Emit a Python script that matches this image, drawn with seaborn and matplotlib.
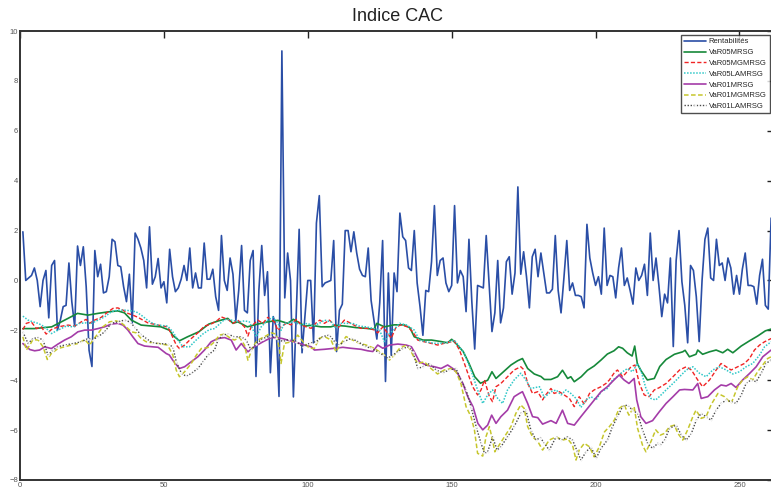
import numpy as np
import pandas as pd
import matplotlib
matplotlib.use("Agg")
import matplotlib.pyplot as plt
import seaborn as sns

# ── Data ─────────────────────────────────────────────────────────────────────
rentabilites = [
    1.95, 0.0, 0.1, 0.2, 0.5, 0.0, -1.05, 0.0, 0.4, -1.5,
    0.6, 0.8, -2.0, -1.6, -1.05, -1.0, 0.7, -0.85, -1.85, 1.38,
    0.6, 1.35, -0.25, -2.8, -3.45, 1.2, 0.15, 0.65, -0.5, -0.45,
    0.15, 1.65, 1.55, 0.6, 0.55, -0.25, -0.85, 0.25, -1.7, 1.9,
    1.65, 1.3, 0.8, -0.3, 2.15, -0.15, 0.15, 0.88, -0.3, -0.05,
    -0.9, 1.25, 0.15, -0.45, -0.3, 0.05, 0.6, 0.0, 1.3, -0.3,
    0.3, -0.3, -0.3, 1.5, 0.05, 0.05, 0.45, -0.65, -1.2, 1.8,
    0.0, -0.4, 0.9, 0.25, -1.6, -0.4, 1.4, -1.2, -1.3, 0.8,
    1.2, -3.85, -0.4, 1.4, -0.6, 0.35, -3.7, -1.45, -1.85, -4.65,
    9.2, -0.7, 1.1, 0.0, -4.67, -1.3, 2.05, -2.9, -1.45, 0.0,
    0.0, -2.5, 2.3, 3.4, -0.25, -0.1, -0.05, 0.0, 1.6, -2.85,
    -1.2, -0.95, 2.0, 2.0, 1.15, 1.95, 1.1, 0.45, 0.2, 0.15,
    1.3, -0.8, -1.6, -2.35, -0.9, 1.6, -4.05, 0.3, -3.0, 0.3,
    -0.45, 2.7, 1.75, 1.6, 0.5, 0.4, 2.0, -0.1, -1.05, -2.2,
    -0.4, -0.45, 0.75, 3.0, 0.2, 0.8, 0.9, -0.1, -0.45, -0.2,
    3.0, -0.1, 0.4, 0.15, -1.25, 1.65, -0.85, -2.75, -0.2, -0.25,
    -0.3, 1.8, -0.1, -2.05, -1.3, 0.8, -1.7, -1.1, 0.75, 0.95,
    -0.55, 0.3, 3.75, 0.25, 1.15, 0.15, -1.1, 0.95, 1.25, 0.15,
    1.1, 0.3, -0.5, -0.5, -0.35, 1.8, -0.4, -1.3, 0.1, 1.6,
    -0.4, -0.1, -0.6, -0.6, -0.65, -1.1, 2.25, 0.9, 0.3, -0.2,
    0.15, -0.55, 2.1, -0.2, 0.2, 0.15, -0.7, 0.5, 1.3, -0.2,
    0.1, -0.4, -0.95, 0.5, 0.0, 0.2, 0.65, -0.6, 1.9, 0.0,
    0.9, -0.2, -1.45, -0.55, -0.9, 0.9, -2.65, 0.8, 2.0, -0.05,
    -1.0, -2.5, 0.6, 0.4, -0.65, -2.45, 0.0, 1.65, 2.1, 0.1,
    0.0, 1.65, 0.6, 0.7, 0.0, 0.9, 0.5, -0.55, 0.2, -0.55,
    0.45, 1.1, -0.2, -0.2, -0.25, -0.95, 0.2, 0.85, -1.0, -1.15,
    2.5,
]

var05_mrsg_x = [1, 5, 11, 16.7, 20, 23.6, 27.1, 30.6, 34, 36.3, 38.7, 42.1, 46, 49,
                52, 53.1, 55.4, 58.2, 62.1, 65.6, 69, 72.2, 74, 75.7, 79, 82.6, 86,
                89.6, 93, 95, 99, 101.2, 104.6, 108, 109.8, 113, 116.7, 120.3, 123,
                124, 126.6, 130, 133.4, 135.5, 137, 140, 143, 146.3, 148.6, 150, 152,
                154, 156, 158, 160, 162.5, 164, 165.4, 168, 170.6, 172.9, 174.6,
                176.4, 178.7, 181, 182.2, 184.5, 186.8, 188.5, 190.3, 191.4, 192.6,
                195, 197.2, 199.5, 201.9, 204.1, 206.4, 208, 209.4, 211, 212.7,
                213.6, 214.5, 215.7, 218, 220.4, 222.3, 224.5, 227.4, 230.3, 231.1,
                232.6, 234.9, 235.5, 237.2, 239.6, 241.9, 244.2, 245.9, 247.7,
                250.6, 253.5, 256.3, 259, 261]
var05_mrsg = [-1.93, -1.93, -1.86, -1.52, -1.32, -1.39, -1.32, -1.26, -1.22, -1.3,
              -1.59, -1.79, -1.83, -1.86, -2.0, -2.2, -2.42, -2.26, -2.06, -1.75,
              -1.62, -1.52, -1.72, -1.66, -1.86, -1.75, -1.66, -1.6, -1.72, -1.56,
              -1.83, -1.8, -1.86, -1.86, -1.8, -1.83, -1.89, -1.92, -1.96, -1.72,
              -1.86, -1.78, -1.78, -1.9, -2.26, -2.39, -2.39, -2.45, -2.5, -2.36,
              -2.59, -2.85, -3.32, -3.86, -4.12, -4.0, -3.66, -3.93, -3.66, -3.39,
              -3.22, -3.13, -3.53, -3.75, -3.85, -3.97, -3.97, -3.86, -3.6, -3.93,
              -3.86, -4.06, -3.86, -3.6, -3.43, -3.19, -2.95, -2.82, -2.66, -2.72,
              -2.9, -3.03, -2.63, -3.33, -3.6, -3.99, -3.93, -3.45, -3.17, -2.96,
              -2.86, -2.8, -3.06, -2.96, -2.79, -2.96, -2.86, -2.79, -2.9, -2.76,
              -2.9, -2.63, -2.42, -2.23, -2.02, -1.95]

var05_mgmrsg_x = [1, 2.2, 3.9, 5.7, 7.4, 9.1, 10.9, 13.2, 16.7, 19, 21.3, 23, 24.2,
                  25.9, 28.2, 30.6, 32.3, 34, 35.8, 37.5, 39.2, 41, 42.7, 44.4, 48,
                  51.3, 52.5, 54.3, 55.4, 57.2, 59.5, 61.8, 64.1, 66.4, 68.7, 69.9,
                  72.2, 74, 75.7, 78, 79.2, 80.3, 82.6, 84.4, 86.1, 88.4, 89.6, 90.7,
                  92.5, 94.2, 96, 97.7, 99.4, 101.2, 103, 104.2, 105.8, 107.5, 108.7,
                  110.4, 112.7, 114.5, 116.2, 118.5, 120.8, 123.1, 124.3, 126.1,
                  127.8, 129, 130.7, 132.4, 134.7, 136.5, 138.2, 140.5, 142.8, 145.1,
                  147.4, 149.8, 150.9, 152.7, 154.4, 155.6, 157.3, 159, 160.2, 161.4,
                  163.1, 164.2, 165.4, 167.1, 169.4, 171.7, 174, 175.2, 176.4, 178.1,
                  179.9, 181.6, 182.2, 184.5, 185.6, 187.4, 189.1, 190.9, 192.6,
                  194.3, 196.1, 197.9, 199.5, 201.9, 203.6, 204.8, 206.5, 207.6,
                  209.4, 210.5, 212.3, 213.7, 215.2, 216.9, 218.6, 220.4, 222.1,
                  224.5, 226.9, 229.2, 231.5, 233.3, 235.5, 237.2, 239.6, 241.9,
                  243.6, 245.4, 247.1, 249.4, 251.7, 253.5, 255.2, 257, 258.7, 261]
var05_mgmrsg = [-1.97, -1.72, -1.66, -1.93, -1.86, -2.15, -1.97, -1.86, -1.79, -1.83,
                -1.66, -1.56, -1.72, -1.59, -1.48, -1.26, -1.12, -1.1, -1.19, -1.32,
                -1.39, -1.48, -1.59, -1.7, -1.79, -1.86, -2.13, -2.59, -2.73, -2.59,
                -2.33, -2.1, -1.83, -1.75, -1.59, -1.46, -1.56, -1.72, -1.59, -1.86,
                -2.23, -1.86, -1.59, -1.72, -1.48, -1.66, -2.0, -1.86, -1.72, -1.78,
                -1.56, -1.78, -1.86, -1.92, -1.69, -1.59, -1.72, -1.59, -1.72, -1.92,
                -1.59, -1.69, -1.8, -1.92, -1.92, -1.98, -2.1, -1.86, -2.12, -2.32,
                -1.86, -1.78, -1.86, -2.06, -2.39, -2.46, -2.52, -2.59, -2.52, -2.46,
                -2.42, -2.79, -3.32, -3.72, -4.26, -4.59, -4.39, -3.99, -4.66, -4.86,
                -4.26, -4.13, -3.86, -3.59, -3.46, -3.59, -4.13, -4.53, -4.46, -4.79,
                -4.66, -4.33, -4.53, -4.46, -4.59, -4.73, -5.06, -4.66, -4.96, -4.53,
                -4.39, -4.26, -4.13, -3.99, -3.7, -3.59, -3.86, -3.72, -3.46, -3.39,
                -4.13, -4.59, -4.66, -4.39, -4.3, -4.13, -3.86, -3.59, -3.46, -3.59,
                -3.99, -4.26, -3.99, -3.59, -3.33, -3.46, -3.59, -3.46, -3.33, -3.13,
                -2.79, -2.59, -2.46, -2.33]

var05_lamrsg_x = [1, 2.8, 4.5, 6.3, 8.6, 10.9, 13.2, 16.1, 18.4, 20.7, 23, 24.8, 27.1,
                  29.4, 31.7, 34, 36.3, 38.7, 40.4, 42.1, 44.4, 46.1, 48, 51.3, 53.1,
                  54.9, 56.6, 58.9, 61.2, 63.5, 65.8, 67.6, 69.3, 71.1, 73.4, 76.3,
                  78, 79.7, 82.1, 83.8, 86.1, 87.8, 89.6, 90.7, 91.9, 94.8, 97.7, 100,
                  101.7, 104, 105.8, 108.1, 109.8, 111.6, 113.9, 115.6, 117.9, 120.3,
                  122.6, 124.9, 126.6, 128.4, 130.1, 131.9, 134.2, 137, 138.8, 141.1,
                  144, 146.9, 149.2, 150.9, 152.7, 154.4, 156.7, 159, 160.8, 162.5,
                  164.2, 166, 167.7, 169.4, 171.7, 174, 175.8, 177.5, 179.3, 180.5,
                  182.2, 184.5, 186.3, 188, 189.7, 191.4, 193.2, 194.9, 196.7, 198.4,
                  200.2, 201.9, 204.1, 205.9, 207.6, 209.4, 211.1, 212.8, 214.6,
                  215.7, 217.5, 219.2, 220.9, 222.5, 224.5, 226.9, 229.2, 231.5,
                  233.8, 236.1, 238.4, 240.7, 243, 245.4, 247.7, 250, 252.3, 254.6,
                  257, 258.7, 261]
var05_lamrsg = [-1.43, -1.59, -1.66, -1.72, -1.86, -2.13, -1.99, -1.83, -1.86, -1.72,
                -1.7, -1.72, -1.59, -1.46, -1.26, -1.19, -1.19, -1.22, -1.26, -1.39,
                -1.6, -1.72, -1.79, -1.83, -2.06, -2.39, -2.66, -2.66, -2.39, -2.15,
                -1.97, -1.93, -1.75, -1.56, -1.59, -1.66, -1.62, -1.66, -2.26, -1.86,
                -1.59, -1.48, -1.7, -2.0, -1.72, -1.66, -1.78, -1.72, -1.83, -1.72,
                -1.59, -1.66, -1.92, -1.72, -1.72, -1.72, -1.83, -1.86, -1.92, -1.98,
                -2.45, -2.12, -1.96, -1.72, -1.78, -1.99, -2.39, -2.46, -2.52, -2.52,
                -2.46, -2.39, -2.66, -2.93, -3.59, -4.39, -4.93, -4.59, -4.39, -4.73,
                -4.93, -4.39, -3.99, -3.72, -3.99, -4.33, -4.29, -4.26, -4.69, -4.46,
                -4.39, -4.59, -4.39, -4.53, -4.73, -5.09, -4.79, -4.66, -4.79, -4.46,
                -4.33, -3.99, -3.86, -3.66, -3.53, -3.66, -3.33, -3.59, -4.33, -4.73,
                -4.79, -4.62, -4.39, -4.13, -3.86, -3.59, -3.46, -3.72, -3.86, -3.59,
                -3.46, -3.59, -3.75, -3.66, -3.46, -3.33, -2.99, -2.66, -2.46]

var01_mrsg_x = [1, 3.4, 5.1, 6.8, 8.6, 10.9, 13.2, 15.5, 17.8, 20.1, 22.5, 24.8, 27.1,
                29.4, 31.7, 34, 35.8, 37.5, 39.2, 41, 43.3, 46, 48, 50.8, 51.9, 53.1,
                55.4, 57.2, 59.5, 61.8, 64.1, 66.4, 68.7, 71.1, 73.4, 75.1, 76.9,
                79.2, 81.4, 84.4, 87.3, 89.6, 91.2, 93, 96.5, 98.8, 101.2, 102.3,
                105.8, 109.3, 112.2, 115, 118.5, 120.8, 122.6, 124.3, 126.1, 128.4,
                131.3, 134.2, 136, 137, 138.8, 141.1, 144, 146.3, 148.6, 150.4,
                152.1, 153.9, 155.6, 157.4, 159.1, 160.8, 162.5, 163.9, 165.4,
                167.1, 169.4, 171.7, 173.5, 174.6, 176.4, 178.1, 179.9, 181.6,
                182.2, 184.5, 186.3, 188.5, 190.3, 192.6, 194.9, 197.2, 199.5,
                201.9, 204.1, 206.4, 208.2, 209.9, 211.6, 213.4, 214.3, 215.7,
                217.5, 219.8, 222.1, 224.5, 226.9, 229.2, 230.9, 233.8, 235.5,
                236.7, 239, 241.3, 243.6, 245.4, 247.1, 248.8, 251.1, 253.5, 255.8,
                258.1, 261]
var01_mrsg = [-2.53, -2.77, -2.82, -2.79, -2.66, -2.73, -2.55, -2.39, -2.26, -2.06,
              -1.99, -1.99, -1.93, -1.86, -1.75, -1.72, -1.79, -1.99, -2.26, -2.53,
              -2.63, -2.66, -2.68, -2.93, -2.99, -3.2, -3.53, -3.46, -3.26, -3.06,
              -2.79, -2.46, -2.33, -2.29, -2.39, -2.79, -2.53, -2.86, -2.66, -2.46,
              -2.29, -2.3, -2.33, -2.39, -2.5, -2.59, -2.66, -2.79, -2.76, -2.72,
              -2.68, -2.72, -2.76, -2.82, -2.85, -2.59, -2.72, -2.59, -2.55, -2.59,
              -2.66, -2.86, -3.26, -3.39, -3.46, -3.53, -3.39, -3.53, -3.73, -4.13,
              -4.66, -5.06, -5.73, -5.99, -5.8, -5.4, -5.73, -5.46, -5.2, -4.66,
              -4.53, -4.46, -4.93, -5.46, -5.5, -5.76, -5.73, -5.62, -5.73, -5.2,
              -5.73, -5.8, -5.46, -5.13, -4.8, -4.46, -4.26, -3.99, -3.79, -3.99,
              -4.13, -3.93, -4.79, -5.46, -5.73, -5.62, -5.27, -4.93, -4.66, -4.39,
              -4.37, -4.39, -4.13, -4.73, -4.66, -4.39, -4.19, -4.23, -4.13, -4.29,
              -3.99, -3.73, -3.46, -3.06, -2.79]

var01_mgmrsg_x = [1, 2.2, 3.4, 4.5, 6.3, 8, 9.5, 10.9, 13.2, 15.5, 17.8, 20.1, 22.5,
                  24.2, 25.3, 27.1, 28.8, 31.1, 33.4, 35.2, 36.9, 38.7, 40.4, 42.1,
                  43.9, 46, 48, 51.3, 53.1, 54.3, 55.4, 57.2, 59.5, 61.3, 63, 65.3,
                  67.6, 69.3, 71.1, 72.8, 74.5, 76.3, 78, 79.2, 80.9, 82.6, 84.9,
                  87.3, 89, 90.2, 90.7, 91.9, 94.8, 96.5, 98.3, 100.6, 102.3, 104,
                  105.8, 108.1, 109.8, 111.6, 113.3, 115.6, 117.9, 120.3, 123.1,
                  124.9, 126.6, 128.4, 130.1, 131.9, 134.2, 135.5, 136.5, 138.2,
                  140.5, 142.8, 145.1, 147.4, 149.8, 151.5, 153.2, 155, 156.7, 157.9,
                  159, 160.8, 161.9, 163.1, 164.2, 165, 166.5, 168.3, 170.6, 172.3,
                  174, 175.2, 176.4, 178.1, 179.9, 181.6, 183.9, 186.3, 188.5, 190.3,
                  192, 193.2, 194.3, 196.1, 197.9, 199.5, 201.3, 203.1, 204.8, 206.5,
                  208.2, 209.9, 211.6, 213.4, 214.6, 216.3, 217.5, 219.2, 220.9,
                  222.5, 224, 225.7, 227.4, 228.6, 230.3, 232, 233.8, 234.9, 236.7,
                  238.4, 240.1, 242.5, 244.8, 247.1, 249.4, 251.1, 252.9, 254.6,
                  256.3, 258.1, 259.8, 261]
var01_mgmrsg = [-2.26, -2.79, -2.59, -2.37, -2.39, -2.66, -3.17, -2.93, -2.73, -2.66,
                -2.59, -2.53, -2.37, -2.59, -2.4, -2.13, -1.86, -1.66, -1.62, -1.7,
                -1.86, -2.06, -2.1, -2.33, -2.46, -2.5, -2.53, -2.59, -2.99, -3.6,
                -3.86, -3.66, -3.33, -2.99, -2.73, -2.69, -2.46, -2.19, -2.15, -2.29,
                -2.39, -2.29, -2.59, -3.2, -2.66, -2.39, -2.26, -2.1, -2.15, -2.79,
                -3.33, -2.52, -2.45, -2.19, -2.45, -2.72, -2.72, -2.32, -2.25, -2.39,
                -2.86, -2.52, -2.25, -2.39, -2.52, -2.59, -2.72, -2.86, -2.99, -3.19,
                -2.99, -2.72, -2.59, -2.75, -2.99, -3.33, -3.26, -3.53, -3.75, -3.59,
                -3.53, -3.66, -4.13, -5.06, -5.46, -5.99, -6.93, -7.04, -6.27, -5.86,
                -6.4, -6.87, -6.6, -6.27, -5.86, -5.33, -4.99, -5.13, -5.86, -6.27,
                -6.45, -6.8, -6.4, -6.27, -6.4, -6.35, -6.6, -7.2, -6.8, -6.53, -6.67,
                -7.07, -6.67, -6.07, -5.86, -5.6, -5.13, -4.99, -5.4, -5.06, -5.93,
                -6.6, -6.87, -6.47, -5.99, -6.2, -6.13, -5.86, -5.8, -6.13, -6.4,
                -5.99, -5.46, -5.2, -5.53, -5.46, -4.99, -4.53, -4.66, -4.93, -4.26,
                -3.99, -3.86, -3.99, -3.66, -3.39, -3.13, -3.06]

var01_lamrsg_x = [1, 2.8, 4.5, 6.3, 8, 9.7, 11.5, 13.2, 15.5, 18.4, 21.3, 23.6, 25.3,
                  27.1, 29.4, 31.7, 34, 36.3, 38.1, 39.8, 41.6, 43.9, 46, 48, 51.3,
                  53.1, 54.3, 56.1, 57.8, 59.5, 61.8, 63.6, 65.3, 67.6, 68.8, 70.5,
                  72.2, 74.5, 76.9, 78.6, 80.3, 82.1, 84.4, 86.7, 89, 91.3, 93.6,
                  95.9, 98.3, 100.6, 102.9, 105.2, 107.5, 109.3, 111, 112.7, 115,
                  117.4, 119.7, 122, 124.3, 126.1, 127.8, 129.5, 131.3, 133, 135.3,
                  136.5, 138.2, 140, 142.3, 144.6, 146.9, 149.2, 151.5, 153.2, 155,
                  156.7, 158.5, 160.2, 161.4, 162.5, 164.2, 165.8, 167.1, 169.4,
                  171.7, 174, 175.8, 177.5, 179.3, 180.8, 182.2, 183.9, 186.3, 188,
                  190.3, 192, 193.7, 194.9, 196.7, 198.4, 200.2, 201.9, 204.1, 205.9,
                  207.6, 209.4, 211.1, 212.8, 214.6, 216.3, 218.1, 219.8, 221.6,
                  222.5, 224, 225.7, 228, 229.8, 231.5, 233.3, 235, 236.7, 238.4,
                  240.1, 241.9, 243.6, 245.4, 247.1, 248.8, 250.6, 252.3, 254, 255.8,
                  257.5, 259.2, 261]
var01_lamrsg = [-2.06, -2.53, -2.33, -2.29, -2.39, -2.99, -2.79, -2.66, -2.59, -2.53,
                -2.46, -2.33, -2.37, -2.26, -2.06, -1.72, -1.66, -1.59, -1.66, -1.86,
                -2.13, -2.33, -2.5, -2.53, -2.55, -2.66, -3.26, -3.73, -3.84, -3.73,
                -3.53, -3.26, -2.99, -2.79, -2.39, -2.19, -2.15, -2.26, -2.26, -2.39,
                -2.79, -2.53, -2.33, -2.23, -2.3, -2.45, -2.36, -2.45, -2.66, -2.52,
                -2.45, -2.25, -2.19, -2.45, -2.59, -2.45, -2.32, -2.45, -2.63, -2.72,
                -2.86, -2.99, -3.12, -2.99, -2.86, -2.72, -2.66, -2.86, -3.53, -3.46,
                -3.33, -3.59, -3.7, -3.59, -3.53, -3.99, -4.39, -5.06, -5.86, -6.53,
                -6.93, -6.87, -6.27, -6.8, -6.67, -6.27, -5.86, -5.33, -5.2, -5.99,
                -6.4, -6.3, -6.53, -6.8, -6.27, -6.4, -6.27, -6.4, -6.87, -7.2, -6.87,
                -6.67, -7.13, -6.73, -6.4, -5.86, -5.46, -5.06, -4.99, -5.2, -5.33,
                -5.99, -6.53, -6.73, -6.53, -6.6, -6.4, -5.93, -5.8, -6.2, -6.4, -6.13,
                -5.6, -5.33, -5.46, -5.6, -5.2, -4.93, -4.8, -4.86, -4.93, -4.6, -4.13,
                -3.99, -4.06, -3.73, -3.33, -3.19]

x_ticks = [0, 50, 100, 150, 200, 250]
y_ticks = [-8, -6, -4, -2, 0, 2, 4, 6, 8, 10]
title = "Indice CAC"

# ── Style ────────────────────────────────────────────────────────────────────
sns.set_style("white")
plt.rcParams["font.family"] = ["Liberation Sans", "DejaVu Sans"]

W, H = 771, 491
fig = plt.figure(figsize=(W / 100, H / 100), dpi=100)
# axes box in pixels: left 20, right 774, top 31, bottom 480
ax = fig.add_axes([20 / W, 1 - 480 / H, (774 - 20) / W, (480 - 31) / H])

series = [
    (np.arange(1, len(rentabilites) + 1), rentabilites, "Rentabilités",
     dict(color="#2a4ea6", lw=1.2, linestyle="-")),
    (var05_mrsg_x, var05_mrsg, "VaR05MRSG",
     dict(color="#16893a", lw=1.2, linestyle="-")),
    (var05_mgmrsg_x, var05_mgmrsg, "VaR05MGMRSG",
     dict(color="#f02424", lw=1.0, linestyle=(0, (3, 1.6)))),
    (var05_lamrsg_x, var05_lamrsg, "VaR05LAMRSG",
     dict(color="#30c8c8", lw=1.1, linestyle=(0, (1, 1)))),
    (var01_mrsg_x, var01_mrsg, "VaR01MRSG",
     dict(color="#a43ca8", lw=1.2, linestyle="-")),
    (var01_mgmrsg_x, var01_mgmrsg, "VaR01MGMRSG",
     dict(color="#c6c62c", lw=1.1, linestyle=(0, (3, 1.6)))),
    (var01_lamrsg_x, var01_lamrsg, "VaR01LAMRSG",
     dict(color="#4a4a4a", lw=1.0, linestyle=(0, (1, 1.2)),
          marker=".", markersize=2.0)),
]

for xs, ys, name, kw in series:
    df = pd.DataFrame({"x": xs, "y": ys})
    sns.lineplot(data=df, x="x", y="y", ax=ax, label=name,
                 estimator=None, sort=False, **kw)

ax.set_xlim(0, 262)
ax.set_ylim(-8, 10)
ax.set_xticks(x_ticks)
ax.set_yticks(y_ticks)
ax.set_xlabel("")
ax.set_ylabel("")

for side in ["left", "right", "top", "bottom"]:
    ax.spines[side].set_visible(True)
    ax.spines[side].set_color("#333333")
    ax.spines[side].set_linewidth(1.4)

ax.tick_params(axis="both", which="both", direction="in", length=5, width=1,
               color="#222222", top=True, right=True, labelsize=5.5,
               labelcolor="#555555", pad=1.5)

ax.set_title(title, fontsize=13, color="#222222", pad=7)

leg = ax.legend(loc="upper left", bbox_to_anchor=(680.5 / W, 1 - 35 / H),
                bbox_transform=fig.transFigure, fontsize=5.5, frameon=True,
                fancybox=False, edgecolor="#222222", handlelength=3.0,
                handletextpad=0.3, labelspacing=0.45, borderpad=0.4,
                borderaxespad=0, numpoints=1)
leg.get_frame().set_linewidth(1.0)

fig.savefig("out.png", dpi=100)
